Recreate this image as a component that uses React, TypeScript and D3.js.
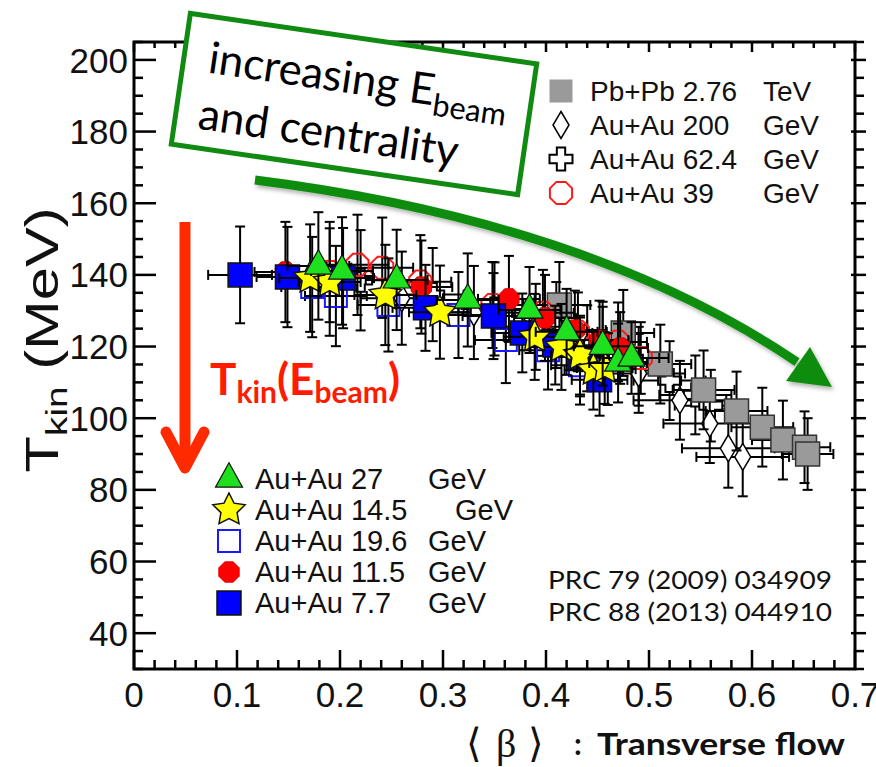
import React from 'react';
import * as d3 from 'd3';

const W = 876;
const H = 767;

// Each point: [<beta>, T_kin (MeV), error on <beta>, error on T_kin]
const pbpb276: number[][] = [
  [0.413, 131.6, 0.03, 12],
  [0.475, 123.8, 0.03, 12],
  [0.511, 115.1, 0.03, 11],
  [0.553, 107.9, 0.03, 11],
  [0.585, 102.0, 0.03, 11],
  [0.61, 97.5, 0.03, 11],
  [0.63, 93.9, 0.03, 11],
  [0.651, 91.9, 0.025, 10],
  [0.654, 90.0, 0.025, 10],
];
const auau200: number[][] = [
  [0.26, 133.5, 0.04, 13],
  [0.33, 129.5, 0.04, 13],
  [0.39, 125.5, 0.04, 12],
  [0.44, 119.5, 0.04, 12],
  [0.49, 112.5, 0.045, 11],
  [0.53, 105.0, 0.045, 11],
  [0.559, 98.5, 0.045, 11],
  [0.577, 91.6, 0.045, 11],
  [0.591, 89.2, 0.045, 11],
];
const auau624: number[][] = [
  [0.22, 138.5, 0.03, 14],
  [0.29, 134.5, 0.03, 13],
  [0.35, 130.5, 0.03, 13],
  [0.41, 126.0, 0.03, 12],
  [0.455, 120.5, 0.03, 12],
  [0.49, 114.5, 0.03, 11],
  [0.52, 110.5, 0.035, 11],
  [0.545, 106.5, 0.035, 11],
  [0.56, 103.5, 0.035, 10],
];
const auau39: number[][] = [
  [0.19, 140.8, 0.03, 14],
  [0.217, 142.8, 0.03, 14],
  [0.241, 142.0, 0.03, 14],
  [0.278, 138.1, 0.03, 13],
  [0.348, 131.6, 0.03, 12],
  [0.397, 129.4, 0.03, 12],
  [0.431, 124.1, 0.028, 11],
  [0.47, 121.3, 0.028, 11],
  [0.492, 116.8, 0.027, 10],
];
const auau196: number[][] = [
  [0.173, 136.6, 0.03, 14],
  [0.196, 134.1, 0.03, 14],
  [0.247, 131.6, 0.03, 13],
  [0.315, 128.8, 0.03, 12],
  [0.361, 121.8, 0.03, 12],
  [0.402, 119.0, 0.028, 11],
  [0.433, 114.8, 0.028, 11],
  [0.46, 113.7, 0.027, 10],
];
const auau115: number[][] = [
  [0.147, 140.8, 0.03, 14],
  [0.279, 136.6, 0.03, 13],
  [0.364, 133.3, 0.03, 12],
  [0.399, 128.0, 0.03, 12],
  [0.428, 124.6, 0.03, 11],
  [0.452, 121.8, 0.028, 11],
  [0.472, 119.6, 0.027, 10],
];
const auau77: number[][] = [
  [0.103, 140.0, 0.031, 13.5],
  [0.149, 139.4, 0.03, 14],
  [0.203, 139.1, 0.03, 14],
  [0.283, 130.8, 0.032, 12],
  [0.349, 128.5, 0.03, 12],
  [0.377, 123.8, 0.03, 11],
  [0.409, 120.4, 0.028, 11],
  [0.433, 117.1, 0.028, 11],
  [0.452, 110.7, 0.027, 10],
];
const auau145: number[][] = [
  [0.171, 139.1, 0.03, 15],
  [0.19, 138.0, 0.03, 15],
  [0.244, 134.4, 0.03, 14],
  [0.297, 129.6, 0.03, 13],
  [0.389, 122.7, 0.03, 12],
  [0.415, 119.9, 0.03, 12],
  [0.433, 117.6, 0.028, 11],
  [0.446, 113.4, 0.028, 11],
  [0.457, 114.0, 0.027, 10],
];
const auau27: number[][] = [
  [0.179, 142.5, 0.03, 15],
  [0.202, 141.1, 0.03, 15],
  [0.255, 138.6, 0.03, 14],
  [0.324, 133.0, 0.03, 13],
  [0.384, 130.2, 0.03, 12],
  [0.42, 124.1, 0.03, 12],
  [0.455, 120.1, 0.028, 11],
  [0.47, 115.4, 0.028, 11],
  [0.483, 116.8, 0.027, 10],
];

const xTickValues = [0, 0.1, 0.2, 0.3, 0.4, 0.5, 0.6, 0.7];
const xTickLabels = ['0', '0.1', '0.2', '0.3', '0.4', '0.5', '0.6', '0.7'];
const yTickValues = [40, 60, 80, 100, 120, 140, 160, 180, 200];
const yTickLabels = ['40', '60', '80', '100', '120', '140', '160', '180', '200'];

const legendTop = [
  { key: 'pbpb', label: 'Pb+Pb 2.76', unit: 'TeV' },
  { key: 'au200', label: 'Au+Au 200', unit: 'GeV' },
  { key: 'au624', label: 'Au+Au 62.4', unit: 'GeV' },
  { key: 'au39', label: 'Au+Au 39', unit: 'GeV' },
];
const legendBottom = [
  { key: 'au27', label: 'Au+Au 27', unit: 'GeV' },
  { key: 'au145', label: 'Au+Au 14.5', unit: 'GeV' },
  { key: 'au196', label: 'Au+Au 19.6', unit: 'GeV' },
  { key: 'au115', label: 'Au+Au 11.5', unit: 'GeV' },
  { key: 'au77', label: 'Au+Au 7.7', unit: 'GeV' },
];

const x = d3.scaleLinear().domain([0, 0.7]).range([134, 855]);
const y = d3.scaleLinear().domain([30, 205]).range([669, 42]);

// ---- marker geometry ----
const sq = (s: number) => {
  const h = s / 2;
  return `M${-h},${-h}H${h}V${h}H${-h}Z`;
};
const diamond = (w: number, h: number) =>
  `M0,${-h / 2}L${w / 2},0L0,${h / 2}L${-w / 2},0Z`;
const cross = (s: number) => {
  const a = s / 2;
  const b = s / 5.5;
  return `M${-b},${-a}H${b}V${-b}H${a}V${b}H${b}V${a}H${-b}V${b}H${-a}V${-b}H${-b}Z`;
};
const octagon = (r: number) => {
  const pts = d3.range(8).map((i) => {
    const a = Math.PI / 8 + (i * Math.PI) / 4;
    return [r * Math.cos(a), r * Math.sin(a)];
  });
  return 'M' + pts.map((p) => p.join(',')).join('L') + 'Z';
};
const triangle = (s: number) => {
  const h = s * 0.9;
  return `M0,${(-2 * h) / 3}L${s / 2},${h / 3}L${-s / 2},${h / 3}Z`;
};
const star = (R: number, r: number) => {
  const pts = d3.range(10).map((i) => {
    const a = -Math.PI / 2 + (i * Math.PI) / 5;
    const rr = i % 2 === 0 ? R : r;
    return [rr * Math.cos(a), rr * Math.sin(a)];
  });
  return 'M' + pts.map((p) => p.join(',')).join('L') + 'Z';
};

type Style = { d: string; fill: string; stroke: string; sw: number };
const styles: Record<string, Style> = {
  pbpb: { d: sq(24), fill: '#9a9a9a', stroke: '#333', sw: 1.5 },
  au200: { d: diamond(16, 27), fill: '#fff', stroke: '#000', sw: 1.5 },
  au624: { d: cross(23), fill: '#fff', stroke: '#000', sw: 2 },
  au39: { d: octagon(12), fill: 'none', stroke: '#ff1a1a', sw: 2 },
  au196: { d: sq(22), fill: 'none', stroke: '#1a1aff', sw: 2 },
  au115: { d: octagon(11), fill: '#ff0000', stroke: '#e00000', sw: 1 },
  au77: { d: sq(24), fill: '#0000ff', stroke: '#111', sw: 1.5 },
  au145: { d: star(17, 8.5), fill: '#ffff00', stroke: '#111', sw: 1.5 },
  au27: { d: triangle(27), fill: '#1fe01f', stroke: '#111', sw: 1.2 },
};
const legendStyles: Record<string, Style> = {
  ...styles,
  pbpb: { d: sq(23), fill: '#9a9a9a', stroke: 'none', sw: 0 },
};

const series: { key: string; data: number[][] }[] = [
  { key: 'au624', data: auau624 },
  { key: 'au200', data: auau200 },
  { key: 'pbpb', data: pbpb276 },
  { key: 'au39', data: auau39 },
  { key: 'au196', data: auau196 },
  { key: 'au115', data: auau115 },
  { key: 'au77', data: auau77 },
  { key: 'au145', data: auau145 },
  { key: 'au27', data: auau27 },
];

const CAP = 5;

function ErrorBars({ data }: { data: number[][] }) {
  return (
    <g stroke="#000" strokeWidth={2} fill="none">
      {data.map(([b, t, eb, et], i) => {
        const cx = x(b);
        const cy = y(t);
        const x0 = x(b - eb);
        const x1 = x(b + eb);
        const y0 = y(t + et);
        const y1 = y(t - et);
        return (
          <g key={i}>
            <line x1={x0} y1={cy} x2={x1} y2={cy} />
            <line x1={cx} y1={y0} x2={cx} y2={y1} />
            <line x1={x0} y1={cy - CAP} x2={x0} y2={cy + CAP} />
            <line x1={x1} y1={cy - CAP} x2={x1} y2={cy + CAP} />
            <line x1={cx - CAP} y1={y0} x2={cx + CAP} y2={y0} />
            <line x1={cx - CAP} y1={y1} x2={cx + CAP} y2={y1} />
          </g>
        );
      })}
    </g>
  );
}

function Marker({ s, cx, cy }: { s: Style; cx: number; cy: number }) {
  return (
    <path
      d={s.d}
      transform={`translate(${cx},${cy})`}
      fill={s.fill}
      stroke={s.stroke}
      strokeWidth={s.sw}
      strokeLinejoin="miter"
    />
  );
}

export default function App() {
  const xMinor = d3.range(0, 0.7001, 0.02);
  const yMinor = d3.range(30, 205.01, 5);
  const axisFont = "'Liberation Sans', Arial, sans-serif";
  const noteFont = "Lato, 'Open Sans', sans-serif";

  return (
    <svg
      width={W}
      height={H}
      viewBox={`0 0 ${W} ${H}`}
      style={{ position: 'absolute', left: 0, top: 0, background: '#fff' }}
    >
      <defs>
        <filter id="soft" x="-10%" y="-10%" width="130%" height="140%">
          <feDropShadow dx="2" dy="3" stdDeviation="2" floodColor="#000" floodOpacity="0.3" />
        </filter>
      </defs>
      <rect x={0} y={0} width={W} height={H} fill="#fff" />

      {/* data */}
      {series.map(({ key, data }) => (
        <g key={key}>
          <ErrorBars data={data} />
          {data.map(([b, t], i) => (
            <Marker key={i} s={styles[key]} cx={x(b)} cy={y(t)} />
          ))}
        </g>
      ))}

      {/* frame and ticks */}
      <g stroke="#000" fill="none">
        <rect x={x(0)} y={y(205)} width={x(0.7) - x(0)} height={y(30) - y(205)} strokeWidth={3} />
        {xMinor.map((v, i) => {
          const major = Math.abs(v * 10 - Math.round(v * 10)) < 1e-6;
          const len = major ? 19 : 9;
          return (
            <g key={i} strokeWidth={2.5}>
              <line x1={x(v)} x2={x(v)} y1={y(30)} y2={y(30) - len} />
              <line x1={x(v)} x2={x(v)} y1={y(205)} y2={y(205) + (major ? 10 : 6)} />
            </g>
          );
        })}
        {yMinor.map((v, i) => {
          const major = v % 20 === 0;
          const len = major ? 22 : 9;
          return (
            <g key={i} strokeWidth={2.5}>
              <line x1={x(0)} x2={x(0) + len} y1={y(v)} y2={y(v)} />
              <line x1={x(0.7) - (major ? 4 : 0)} x2={x(0.7) + (major ? 11 : 9)} y1={y(v)} y2={y(v)} />
            </g>
          );
        })}
      </g>

      {/* tick labels */}
      <g fontFamily={axisFont} fontSize={35} fill="#111">
        {yTickValues.map((v, i) => (
          <text key={i} x={128} y={y(v)} dy="0.36em" textAnchor="end">
            {yTickLabels[i]}
          </text>
        ))}
        {xTickValues.map((v, i) => (
          <text key={i} x={x(v)} y={707} textAnchor="middle">
            {xTickLabels[i]}
          </text>
        ))}
      </g>

      {/* y axis title */}
      <g transform="translate(58,340) rotate(-90)" fontFamily={axisFont} fill="#111">
        <text textAnchor="middle" textLength={265} lengthAdjust="spacingAndGlyphs">
          <tspan fontSize={46}>T</tspan>
          <tspan fontSize={30} dy={9}>kin</tspan>
          <tspan fontSize={46} dy={-9}>{' (MeV)'}</tspan>
        </text>
      </g>

      {/* x axis title */}
      <g fill="#111">
        <text x={466} y={757} fontFamily="'Liberation Serif', 'DejaVu Serif', serif" fontSize={40}>
          {'\u27E8'}
        </text>
        <text x={496} y={757} fontFamily="'Liberation Serif', 'DejaVu Serif', serif" fontSize={40}>
          β
        </text>
        <text x={528} y={757} fontFamily="'Liberation Serif', 'DejaVu Serif', serif" fontSize={40}>
          {'\u27E9'}
        </text>
        <text x={574} y={755} fontFamily={noteFont} fontWeight="bold" fontSize={30}>
          :
        </text>
        <text
          x={597}
          y={755}
          fontFamily={noteFont}
          fontWeight="bold"
          fontSize={31}
          textLength={248}
          lengthAdjust="spacingAndGlyphs"
        >
          Transverse flow
        </text>
      </g>

      {/* legends */}
      <g fontFamily={axisFont} fontSize={28} fill="#111">
        {legendTop.map((it, i) => {
          const cy = 91 + i * 34;
          return (
            <g key={it.key}>
              <Marker s={legendStyles[it.key]} cx={561} cy={cy} />
              <text x={590} y={cy + 10}>{it.label}</text>
              <text x={763} y={cy + 10}>{it.unit}</text>
            </g>
          );
        })}
      </g>
      <g fontFamily={axisFont} fontSize={29} fill="#111">
        {legendBottom.map((it, i) => {
          const cy = 479 + i * 31;
          return (
            <g key={it.key}>
              <Marker s={legendStyles[it.key]} cx={229} cy={cy} />
              <text x={255} y={cy + 10}>{it.label}</text>
              <text x={it.key === 'au145' ? 455 : 428} y={cy + 10}>{it.unit}</text>
            </g>
          );
        })}
      </g>

      {/* references */}
      <g fontFamily={noteFont} fontSize={25} fill="#111">
        <text x={548} y={589} textLength={284} lengthAdjust="spacingAndGlyphs">
          PRC 79 (2009) 034909
        </text>
        <text x={548} y={621} textLength={284} lengthAdjust="spacingAndGlyphs">
          PRC 88 (2013) 044910
        </text>
      </g>

      {/* red arrow */}
      <g stroke="#ff2a00" fill="none" strokeWidth={11}>
        <line x1={185} y1={222} x2={185} y2={466} />
        <polyline points="166,432 185,468 204,432" strokeLinecap="round" strokeLinejoin="round" />
      </g>
      <text x={210} y={395} fontFamily={noteFont} fontWeight="bold" fill="#ff1a00" textLength={190} lengthAdjust="spacingAndGlyphs">
        <tspan fontSize={44}>T</tspan>
        <tspan fontSize={30} dy={8}>kin</tspan>
        <tspan fontSize={44} dy={-8}>(E</tspan>
        <tspan fontSize={30} dy={8}>beam</tspan>
        <tspan fontSize={44} dy={-8}>)</tspan>
      </text>

      {/* green arrow */}
      <g filter="url(#soft)">
        <path d="M255,180 Q590,222 797,362" stroke="#0b8c0b" strokeWidth={9} fill="none" />
        <path d="M832,387 L810,347 L786,381 Z" fill="#0b8c0b" />
      </g>

      {/* annotation box */}
      <g transform="translate(354,104) rotate(8.3)">
        <rect x={-175} y={-66} width={350} height={132} fill="#fff" stroke="#118a11" strokeWidth={5} />
        <text x={-150} y={-10} fontFamily={noteFont} fill="#000" textLength={302} lengthAdjust="spacingAndGlyphs">
          <tspan fontSize={44}>increasing E</tspan>
          <tspan fontSize={31} dy={10}>beam</tspan>
        </text>
        <text x={-152} y={47} fontFamily={noteFont} fontSize={44} fill="#000" textLength={262} lengthAdjust="spacingAndGlyphs">
          and centrality
        </text>
      </g>
    </svg>
  );
}
